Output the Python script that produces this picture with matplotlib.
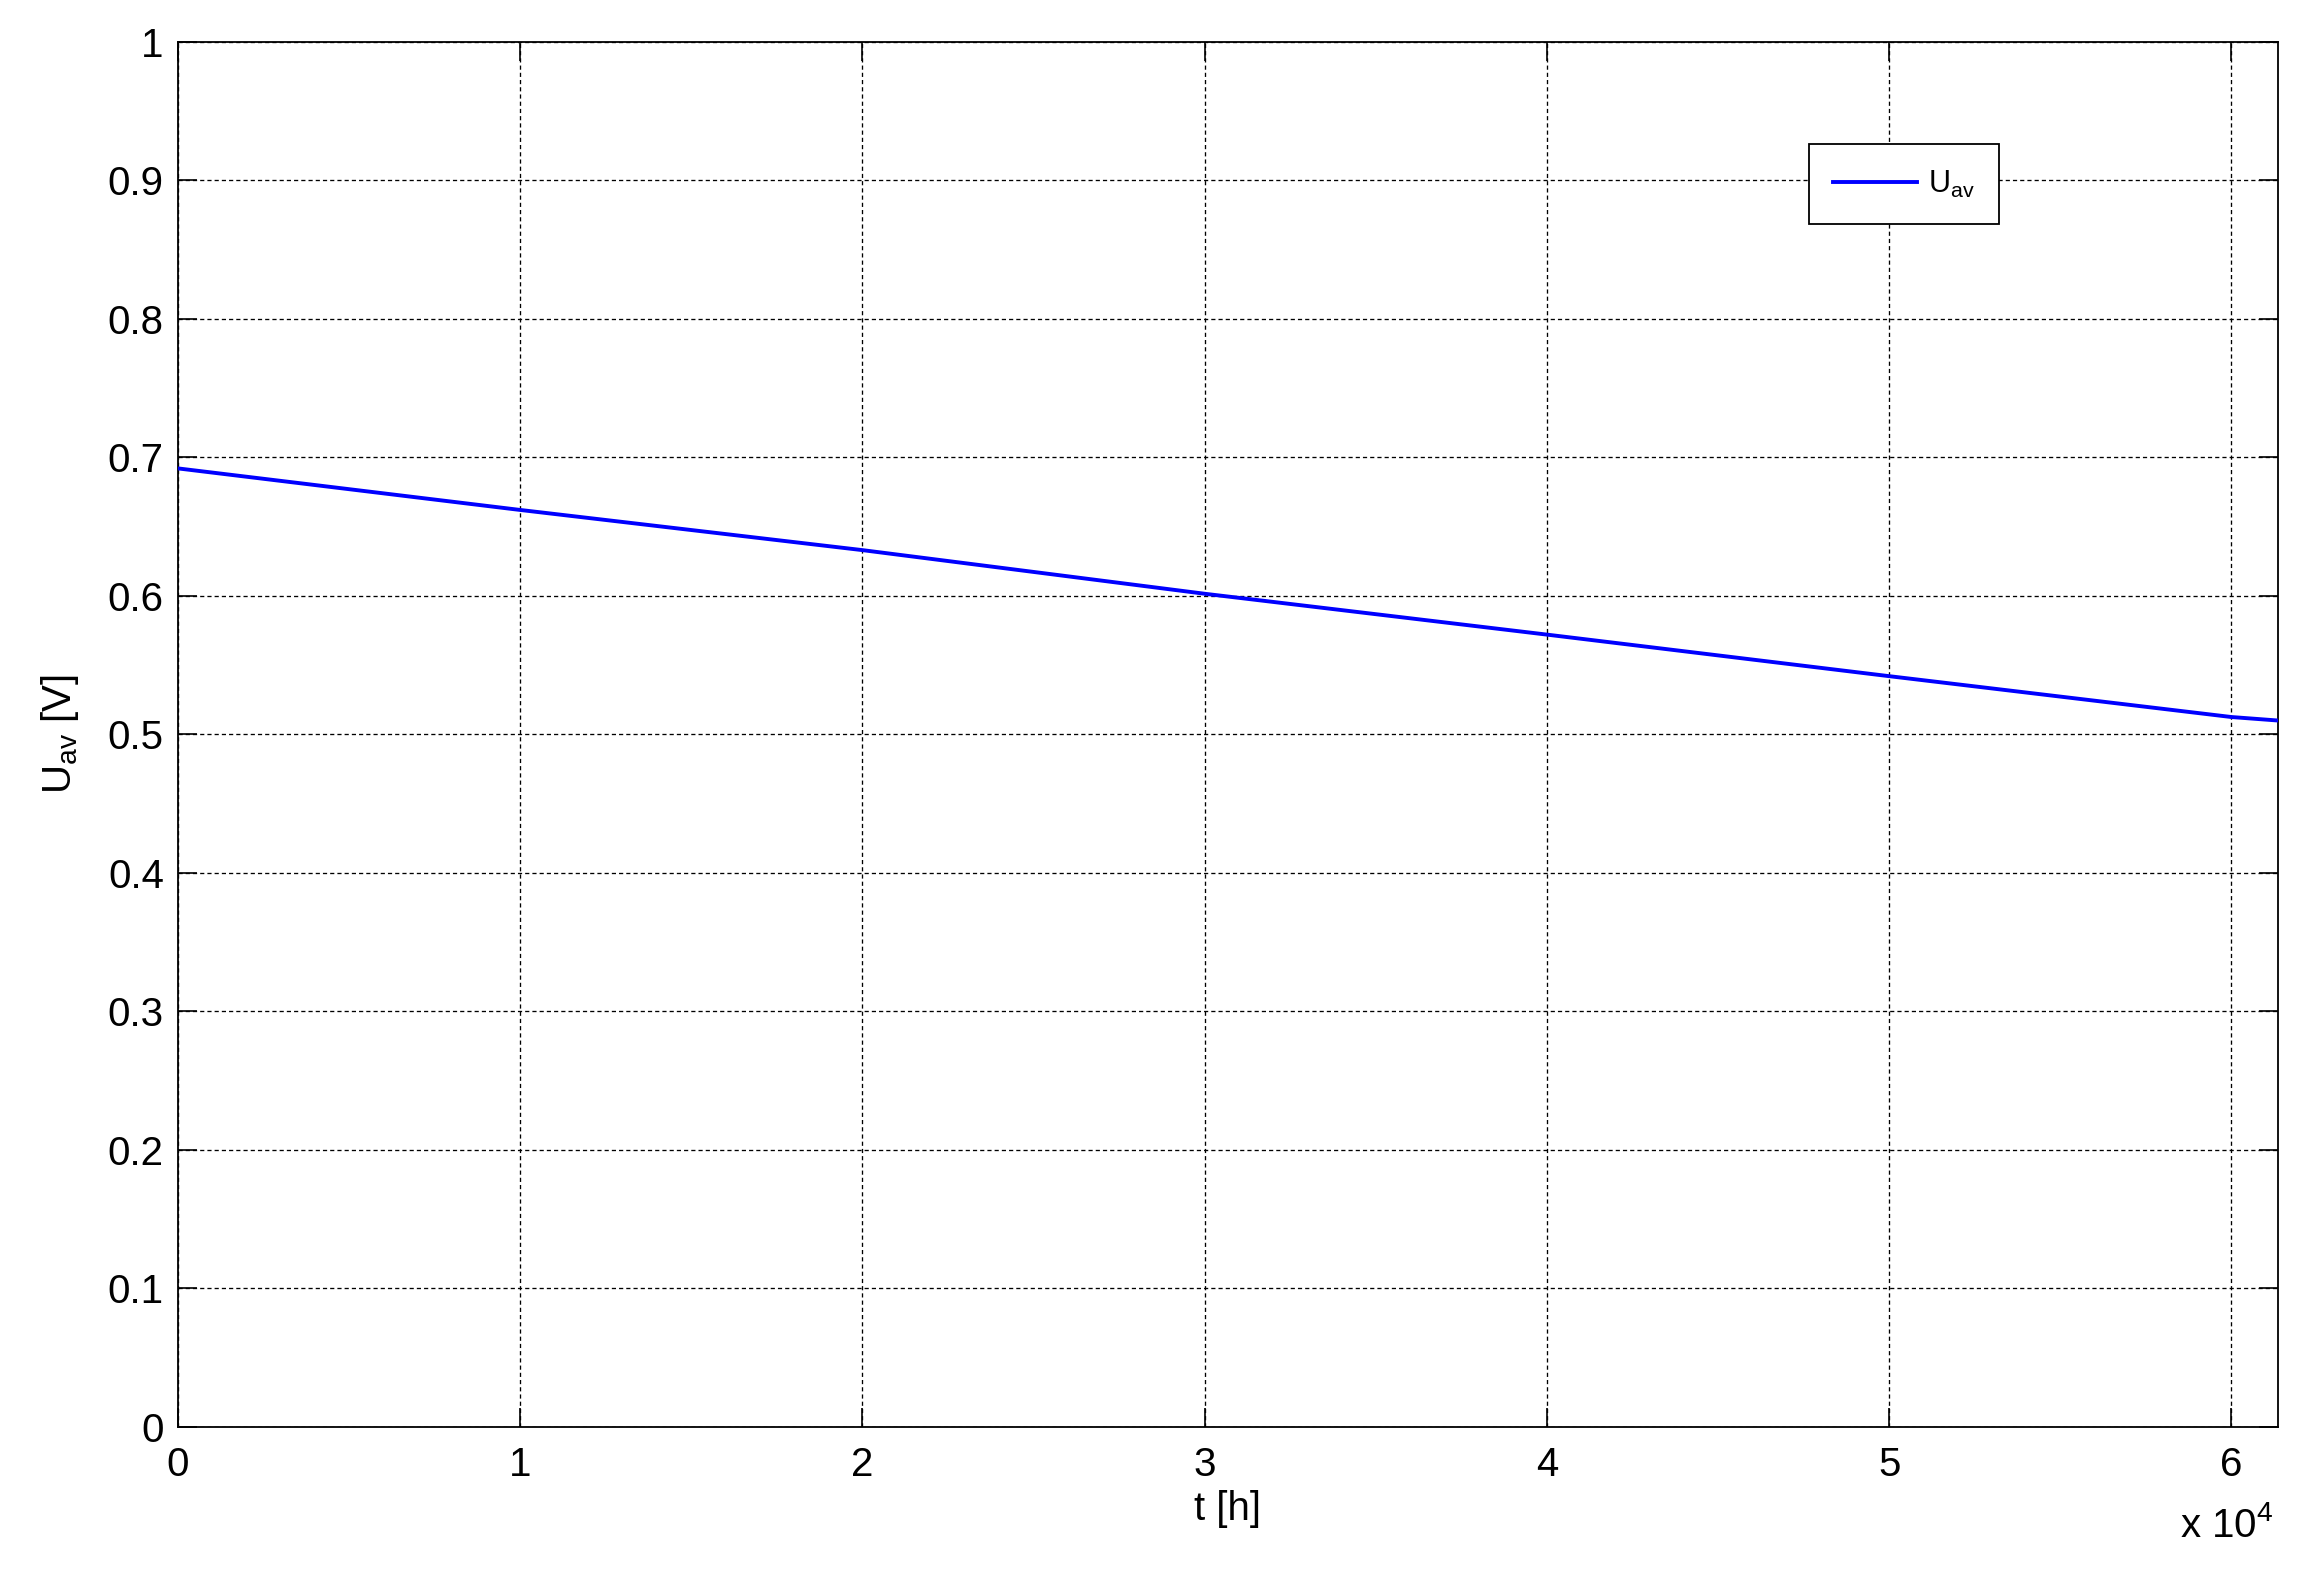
import matplotlib
matplotlib.use("Agg")
import matplotlib.pyplot as plt
from matplotlib.ticker import FixedLocator, FuncFormatter

# Data (t in units of 1e4 h)
t_vals = [0.0, 1.0, 2.0, 3.0, 4.0, 5.0, 6.0, 6.135]
u_av = [0.692, 0.662, 0.633, 0.6015, 0.572, 0.542, 0.5125, 0.510]
x_ticks = [0, 1, 2, 3, 4, 5, 6]
y_ticks = [0, 0.1, 0.2, 0.3, 0.4, 0.5, 0.6, 0.7, 0.8, 0.9, 1.0]
y_tick_labels = ["0", "0.1", "0.2", "0.3", "0.4", "0.5", "0.6", "0.7", "0.8", "0.9", "1"]

plt.rcParams['font.family'] = ['Liberation Sans', 'DejaVu Sans']
plt.rcParams['lines.scale_dashes'] = False

W, H = 2313, 1587
fig = plt.figure(figsize=(W / 100, H / 100), dpi=100)
ax = fig.add_axes([177.7 / W, 1 - 1427 / H, (2277.7 - 177.7) / W, (1427 - 41.7) / H])

ax.plot(t_vals, u_av, color=(0, 0, 1), lw=2.8, label=r"U$_{\mathregular{av}}$", zorder=3)

ax.set_xlim(0, 6.135)
ax.set_ylim(0, 1)
ax.xaxis.set_major_locator(FixedLocator(x_ticks))
ax.xaxis.set_major_formatter(FuncFormatter(lambda v, p: f"{int(round(v))}"))
ax.set_yticks(y_ticks)
ax.set_yticklabels(y_tick_labels)

ax.grid(True, color='black', linestyle=(0, (3.0, 2.2)), linewidth=0.95)
for s in ax.spines.values():
    s.set_linewidth(1.3)
ax.tick_params(direction='in', length=14, width=1.2, labelsize=29,
               top=True, right=True, pad=10)
ax.tick_params(axis='x', pad=14)

ax.set_xlabel("t [h]", fontsize=29, labelpad=4)
ax.set_ylabel(r"U$_{\mathregular{av}}$ [V]", fontsize=29, labelpad=19)

fig.text(2273 / W, 1 - 1537 / H, r"x 10$^{\mathregular{4}}$", fontsize=29,
         ha='right', va='baseline')

leg = ax.legend(loc='upper left', bbox_to_anchor=((1809 - 177.7) / 2100, 1 - (144 - 41.7) / 1385.3),
                fontsize=22, frameon=True, fancybox=False, edgecolor='black',
                framealpha=1, handlelength=2.75, borderpad=0.8, handletextpad=0.35,
                borderaxespad=0)
leg.get_frame().set_linewidth(1.3)

fig.savefig("out.png", dpi=100, facecolor='white')
